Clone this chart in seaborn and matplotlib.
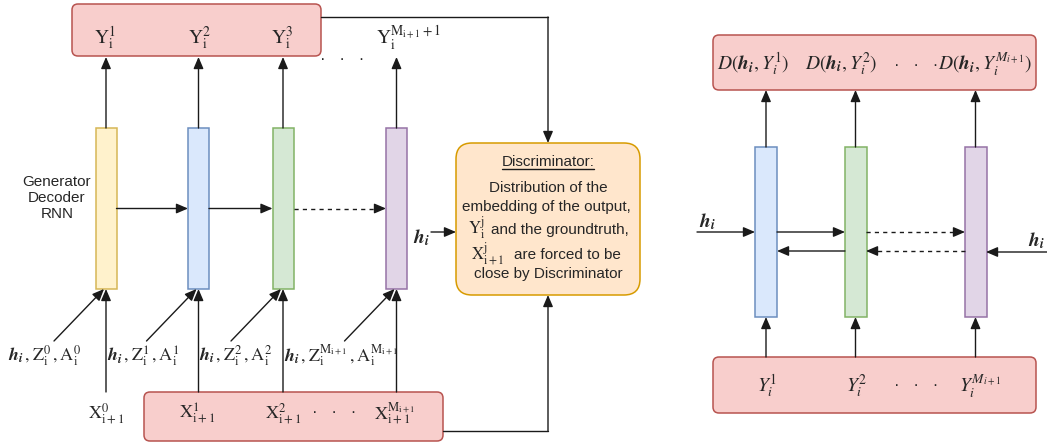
import seaborn as sns
import matplotlib.pyplot as plt
from matplotlib.patches import FancyBboxPatch, Rectangle

sns.set_theme(style="white")
plt.rcParams['font.family'] = ['Liberation Sans', 'DejaVu Sans']
plt.rcParams['mathtext.fontset'] = 'stix'

H = r'\mathbfit{h}_{\mathbfit{i}}'

# cell layout (pixel coords, y downwards)
left_cell_x = [106, 198.5, 283, 396.5]
left_cell_face = ['#fff2cc', '#dae8fc', '#d5e8d4', '#e1d5e7']
left_cell_edge = ['#d6b656', '#6c8ebf', '#82b366', '#9673a6']
right_cell_x = [766, 855.5, 975.5]
right_cell_face = ['#dae8fc', '#d5e8d4', '#e1d5e7']
right_cell_edge = ['#6c8ebf', '#82b366', '#9673a6']

left_top_labels = [r'$\mathrm{Y_i^1}$', r'$\mathrm{Y_i^2}$', r'$\mathrm{Y_i^3}$',
                   r'$\mathrm{Y_i^{M_{i+1}+1}}$']
left_top_label_x = [105, 199, 282, 408]
left_in_labels = ['$' + H + r'\,,\mathrm{Z_i^0}\,,\mathrm{A_i^0}$',
                  '$' + H + r'\,,\mathrm{Z_i^1}\,,\mathrm{A_i^1}$',
                  '$' + H + r'\,,\mathrm{Z_i^2}\,,\mathrm{A_i^2}$',
                  '$' + H + r'\,,\mathrm{Z_i^{M_{i+1}}}\,,\mathrm{A_i^{M_{i+1}}}$']
left_in_label_x = [44, 143, 236, 341]
left_x_labels = [r'$\mathrm{X_{i+1}^0}$', r'$\mathrm{X_{i+1}^1}$', r'$\mathrm{X_{i+1}^2}$',
                 r'$\mathrm{X_{i+1}^{M_{i+1}}}$']
left_x_label_x = [106, 197, 283, 395]

right_top_labels = ['$D(' + H + r',Y_i^1)$', '$D(' + H + r',Y_i^2)$',
                    '$D(' + H + r',Y_i^{M_{i+1}})$']
right_top_label_x = [753, 841, 985]
right_bot_labels = [r'$Y_i^1$', r'$Y_i^2$', r'$Y_i^{M_{i+1}}$']
right_bot_label_x = [767, 857, 980]

disc_lines = ['Distribution of the', 'embedding of the output,',
              'and the groundtruth,', 'are forced to be', 'close by Discriminator']
disc_line_x = [548, 546, 560, 567, 548]
disc_line_y = [188, 207, 230, 255, 274]
disc_math = [r'$\mathrm{Y_i^j}$', r'$\mathrm{X_{i+1}^j}$']
disc_math_x = [477, 488]
disc_math_y = [228, 254]

fig = plt.figure(figsize=(10.47, 4.44), dpi=100)
ax = fig.add_axes([0, 0, 1, 1])
ax.set_xlim(0, 1047)
ax.set_ylim(444, 0)
ax.axis('off')

LC = '#1a1a1a'


def rbox(x0, y0, x1, y1, face, edge, r=6):
    ax.add_patch(FancyBboxPatch((x0, y0), x1 - x0, y1 - y0,
                                boxstyle=f"round,pad=0,rounding_size={r}",
                                fc=face, ec=edge, lw=1.1))


def arrow(p0, p1, dashed=False):
    if dashed:
        # dashed shaft with solid head
        dx, dy = p1[0] - p0[0], p1[1] - p0[1]
        n = (dx ** 2 + dy ** 2) ** 0.5
        q = (p1[0] - dx / n * 8, p1[1] - dy / n * 8)
        ax.plot([p0[0], q[0]], [p0[1], q[1]], color=LC, lw=1, ls=(0, (3, 3)))
        p0 = q
    ax.annotate('', xy=p1, xytext=p0,
                arrowprops=dict(arrowstyle='-|>,head_length=0.7,head_width=0.3',
                                color=LC, lw=1, shrinkA=0, shrinkB=0,
                                mutation_scale=10))


def line(xs, ys):
    ax.plot(xs, ys, color=LC, lw=1)


# ---------------- left diagram ----------------
rbox(72, 4, 321, 56, '#f8cecc', '#b85450')
rbox(144, 392, 443, 441, '#f8cecc', '#b85450')
rbox(456, 143, 640, 295, '#ffe6cc', '#d79b00', r=16)

for x, fc, ec in zip(left_cell_x, left_cell_face, left_cell_edge):
    ax.add_patch(Rectangle((x - 10.5, 128), 21, 161, fc=fc, ec=ec, lw=1.1))
    arrow((x, 128), (x, 57))
    arrow((x, 392), (x, 289))
    arrow((x - 52, 341), (x - 2, 289))

for i in range(3):
    arrow((left_cell_x[i] + 10.5, 208.5), (left_cell_x[i + 1] - 10.5, 208.5),
          dashed=(i == 2))

for s, x in zip(left_top_labels, left_top_label_x):
    ax.text(x, 38, s, ha='center', va='center', fontsize=14)
ax.text(342, 60, '·   ·   ·', ha='center', va='center', fontsize=12)
for s, x in zip(left_in_labels, left_in_label_x):
    ax.text(x, 356, s, ha='center', va='center', fontsize=13)
for s, x in zip(left_x_labels, left_x_label_x):
    ax.text(x, 414, s, ha='center', va='center', fontsize=13)
ax.text(334, 412, '·   ·   ·', ha='center', va='center', fontsize=12)

ax.text(57, 198, 'Generator\nDecoder\nRNN', ha='center', va='center',
        fontsize=11, linespacing=1.15)

# connections to the discriminator
line([321, 548], [17, 17])
arrow((548, 17), (548, 143))
line([443, 548], [431, 431])
arrow((548, 431), (548, 295))
ax.text(421, 238, '$' + H + '$', ha='center', va='center', fontsize=14)
arrow((431, 232), (456, 232))

t = ax.text(548, 162, 'Discriminator:', ha='center', va='center', fontsize=11)
fig.canvas.draw()
bb = t.get_window_extent().transformed(ax.transData.inverted())
line([bb.x0, bb.x1], [169, 169])
for s, x, y in zip(disc_lines, disc_line_x, disc_line_y):
    ax.text(x, y, s, ha='center', va='center', fontsize=11)
for s, x, y in zip(disc_math, disc_math_x, disc_math_y):
    ax.text(x, y, s, ha='center', va='center', fontsize=12)

# ---------------- right diagram ----------------
rbox(713, 35, 1036, 90, '#f8cecc', '#b85450')
rbox(713, 357, 1036, 413, '#f8cecc', '#b85450')

for x, fc, ec in zip(right_cell_x, right_cell_face, right_cell_edge):
    ax.add_patch(Rectangle((x - 11, 147), 22, 170, fc=fc, ec=ec, lw=1.1))
    arrow((x, 147), (x, 90))
    arrow((x, 357), (x, 317))

arrow((697, 232), (755, 232))
arrow((777, 232), (845, 232))
arrow((866, 232), (965, 232), dashed=True)
arrow((845, 251), (777, 251))
arrow((965, 251), (866, 251), dashed=True)
arrow((1047, 252), (986, 252))
ax.text(707, 222, '$' + H + '$', ha='center', va='center', fontsize=14)
ax.text(1036, 241, '$' + H + '$', ha='center', va='center', fontsize=14)

for s, x in zip(right_top_labels, right_top_label_x):
    ax.text(x, 64, s, ha='center', va='center', fontsize=14)
ax.text(916, 65, '·   ·   ·', ha='center', va='center', fontsize=12)
for s, x in zip(right_bot_labels, right_bot_label_x):
    ax.text(x, 386, s, ha='center', va='center', fontsize=14)
ax.text(916, 385, '·   ·   ·', ha='center', va='center', fontsize=12)

fig.savefig('out.png', dpi=100)
